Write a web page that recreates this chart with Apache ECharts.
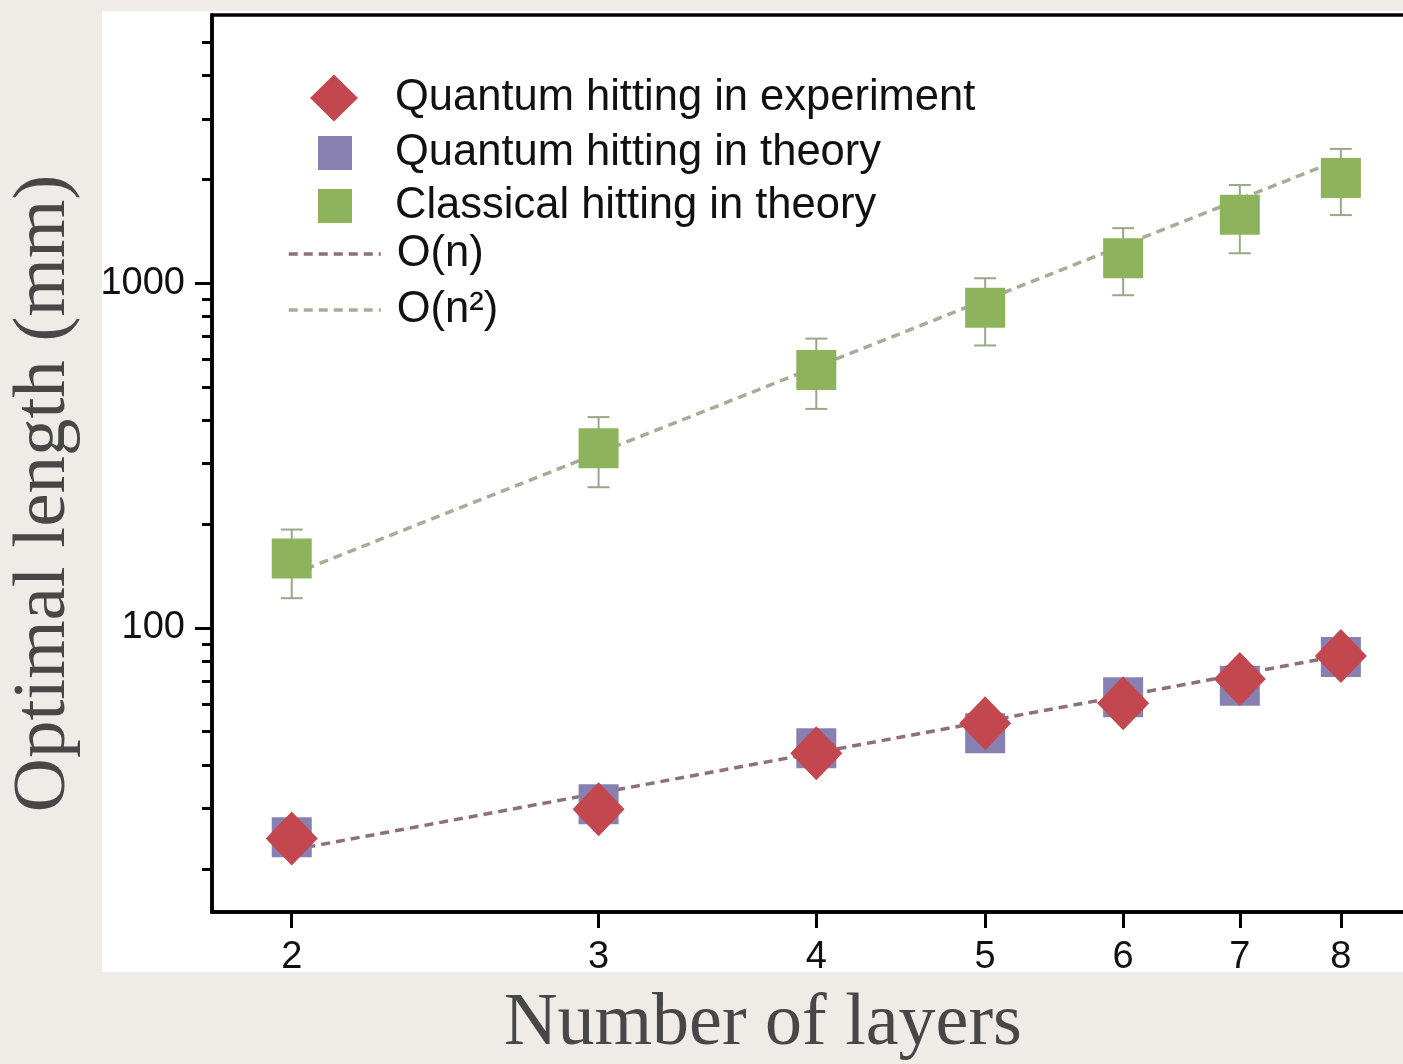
<!DOCTYPE html>
<html><head><meta charset="utf-8">
<script src="https://cdn.jsdelivr.net/npm/echarts@6/dist/echarts.min.js"></script>
<style>html,body{margin:0;padding:0;background:#efebe6;}#c{width:1403px;height:1064px;}</style>
</head><body><div id="c"></div>
<script>
// ---- data ----
const layers = [2, 3, 4, 5, 6, 7, 8];
const quantumExperiment = [24.5, 29.8, 43.3, 52.9, 60.5, 71.1, 82.9];
const quantumTheory = [24.7, 30.8, 44.8, 49.5, 63.0, 68.0, 82.4];
const classicalTheory = [159, 332, 560, 849, 1182, 1580, 2020];
const classicalLow = [122, 256, 432, 660, 923, 1222, 1577];
const classicalHigh = [193, 409, 691, 1034, 1445, 1927, 2453];
const fitX = [2, 8];
const fitLinear = [22.7, 83.2];
const fitQuadratic = [143, 2290];
const xTicks = [2, 3, 4, 5, 6, 7, 8];
const yMajorTicks = [100, 1000];
const yMinorTicks = [20, 30, 40, 50, 60, 70, 80, 90, 200, 300, 400, 500, 600, 700, 800, 900, 2000, 3000, 4000, 5000];
const seriesNames = ['Quantum hitting in experiment', 'Quantum hitting in theory', 'Classical hitting in theory', 'O(n)', 'O(n²)'];

const pair = (xs, ys) => xs.map((x, i) => [x, ys[i]]);
const sans = 'Liberation Sans';
const serif = 'Liberation Serif';
const legendFont = 43.5;

const chart = echarts.init(document.getElementById('c'));
const option = {
  backgroundColor: '#efebe6',
  animation: false,
  graphic: [{
    type: 'rect', silent: true, z: -10,
    shape: { x: 102, y: 11, width: 1320, height: 961 },
    style: { fill: '#ffffff' }
  }],
  grid: { left: 212, top: 15, right: -27, bottom: 152, outerBoundsMode: 'none', containLabel: false,
          show: true, borderColor: '#000', borderWidth: 3.5, backgroundColor: 'transparent' },
  xAxis: {
    type: 'log', min: 1.8, max: 9,
    axisLine: { lineStyle: { color: '#000', width: 3.5 } },
    axisTick: { customValues: xTicks, length: 16, lineStyle: { color: '#000', width: 3 } },
    axisLabel: { customValues: xTicks, margin: 27, fontSize: 38, fontFamily: sans, color: '#111', formatter: v => String(v) },
    splitLine: { show: false },
    name: 'Number of layers', nameLocation: 'middle', nameGap: 76,
    nameTextStyle: { fontFamily: serif, fontSize: 74, color: '#474747', padding: [0, 116, 0, 0] }
  },
  yAxis: [{
    type: 'log', min: 15, max: 6000,
    axisLine: { lineStyle: { color: '#000', width: 3.5 } },
    axisTick: { customValues: yMajorTicks, length: 17, lineStyle: { color: '#000', width: 3 } },
    axisLabel: { customValues: yMajorTicks, margin: 27, fontSize: 38, fontFamily: sans, color: '#111', formatter: v => String(v) },
    splitLine: { show: false },
    name: 'Optimal length (mm)', nameLocation: 'middle', nameGap: 130, nameRotate: 90,
    nameTextStyle: { fontFamily: serif, fontSize: 75, color: '#474747', padding: [0, 60, 0, 0] }
  }, {
    type: 'log', min: 15, max: 6000, position: 'left',
    axisLine: { show: false },
    axisTick: { customValues: yMinorTicks, length: 10, lineStyle: { color: '#000', width: 3 } },
    axisLabel: { show: false },
    splitLine: { show: false }
  }],
  legend: [{
    data: [seriesNames[0]], orient: 'vertical', left: 310, top: 74.5, padding: 0,
    itemWidth: 48, itemHeight: 47, selectedMode: false,
    textStyle: { fontSize: legendFont, fontFamily: sans, color: '#111', padding: [0, 0, 0, 32] }
  }, {
    data: [seriesNames[1], seriesNames[2]], orient: 'vertical', left: 318, top: 131, padding: 0,
    itemWidth: 34, itemHeight: 34, itemGap: 9, selectedMode: false,
    textStyle: { fontSize: legendFont, fontFamily: sans, color: '#111', padding: [0, 0, 0, 38] }
  }, {
    data: [seriesNames[3], seriesNames[4]], orient: 'vertical', left: 287, top: 232, padding: 0,
    itemWidth: 92, itemHeight: 14, itemGap: 12, selectedMode: false,
    itemStyle: { opacity: 0, borderWidth: 0 },
    lineStyle: { width: 3.5, type: [9, 6], opacity: 1 },
    textStyle: { fontSize: legendFont, fontFamily: sans, color: '#111', padding: [0, 0, 0, 11] }
  }],
  series: [{
    name: seriesNames[3], type: 'line', data: pair(fitX, fitLinear),
    symbol: 'none', z: 1,
    itemStyle: { color: '#8d6f7e' },
    lineStyle: { color: '#8d6f7e', width: 3.5, type: [9, 6] }
  }, {
    name: seriesNames[4], type: 'line', data: pair(fitX, fitQuadratic),
    symbol: 'none', z: 1,
    itemStyle: { color: '#a6ad96' },
    lineStyle: { color: '#a6ad96', width: 3.5, type: [9, 6] }
  }, {
    name: 'classical-error', type: 'custom', z: 2,
    data: layers.map((x, i) => [x, classicalLow[i], classicalHigh[i]]),
    renderItem: (params, api) => {
      const lo = api.coord([api.value(0), api.value(1)]);
      const hi = api.coord([api.value(0), api.value(2)]);
      const w = 11;
      const st = { stroke: '#99a887', lineWidth: 2 };
      return {
        type: 'group', children: [
          { type: 'line', shape: { x1: lo[0], y1: lo[1], x2: hi[0], y2: hi[1] }, style: st },
          { type: 'line', shape: { x1: lo[0] - w, y1: lo[1], x2: lo[0] + w, y2: lo[1] }, style: st },
          { type: 'line', shape: { x1: hi[0] - w, y1: hi[1], x2: hi[0] + w, y2: hi[1] }, style: st }
        ]
      };
    }
  }, {
    name: seriesNames[2], type: 'scatter', data: pair(layers, classicalTheory),
    symbol: 'rect', symbolSize: 40, z: 3,
    itemStyle: { color: '#8db45d', opacity: 1 }
  }, {
    name: seriesNames[1], type: 'scatter', data: pair(layers, quantumTheory),
    symbol: 'rect', symbolSize: 40, z: 3,
    itemStyle: { color: '#8880b0', opacity: 1 }
  }, {
    name: seriesNames[0], type: 'scatter', data: pair(layers, quantumExperiment),
    symbol: 'diamond', symbolSize: [52, 54], z: 4,
    itemStyle: { color: '#c2474f', opacity: 1 }
  }]
};
chart.setOption(option);
</script></body></html>
